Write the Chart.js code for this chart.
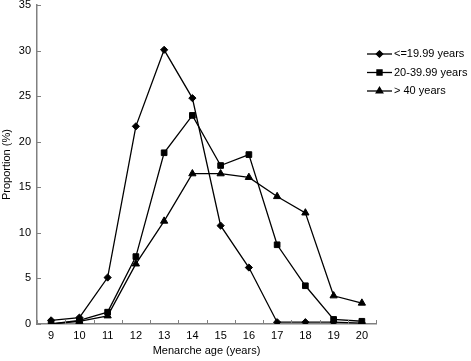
<!DOCTYPE html>
<html>
<head>
<meta charset="utf-8">
<script src="https://cdn.jsdelivr.net/npm/chart.js@4/dist/chart.umd.min.js"></script>
<style>
html,body{margin:0;padding:0;background:#fff;}
#wrap{width:471px;height:361px;position:relative;}
</style>
</head>
<body>
<div id="wrap"><canvas id="c" width="471" height="361"></canvas></div>
<script>
const ages = ['9','10','11','12','13','14','15','16','17','18','19','20'];
const seriesNames = ['<=19.99 years','20-39.99 years','> 40 years'];
const under20 = [0.4, 0.7, 5.1, 21.7, 30.1, 24.8, 10.8, 6.2, 0.2, 0.2, 0.2, 0.1];
const age20to40 = [0.0, 0.4, 1.3, 7.4, 18.8, 22.9, 17.4, 18.6, 8.7, 4.2, 0.5, 0.3];
const over40 = [0.0, 0.3, 0.9, 6.6, 11.3, 16.5, 16.5, 16.1, 14.0, 12.2, 3.1, 2.3];
const yTicks = [0, 5, 10, 15, 20, 25, 30, 35];

const FONT = 'Liberation Sans, Arial, Helvetica, sans-serif';
const styles = ['rectRot','rect','triangle'];
const radii = [3.6, 4, 4.2];

const innerTicks = {
  id: 'innerTicks',
  afterDraw(chart) {
    const ctx = chart.ctx;
    const xs = chart.scales.x, ys = chart.scales.y;
    const a = chart.chartArea;
    ctx.save();
    ctx.strokeStyle = '#808080';
    ctx.lineWidth = 1;
    yTicks.forEach(v => {
      const y = Math.round(ys.getPixelForValue(v)) + 0.5;
      ctx.beginPath(); ctx.moveTo(a.left, y); ctx.lineTo(a.left + 4, y); ctx.stroke();
    });
    const n = ages.length;
    for (let i = 0; i <= n; i++) {
      let x;
      if (i === 0) x = a.left;
      else if (i === n) x = a.right;
      else x = (xs.getPixelForTick(i - 1) + xs.getPixelForTick(i)) / 2;
      x = Math.round(x) + 0.5;
      ctx.beginPath(); ctx.moveTo(x, a.bottom); ctx.lineTo(x, a.bottom - 4); ctx.stroke();
    }
    ctx.restore();
  }
};

const customLegend = {
  id: 'customLegend',
  afterDraw(chart) {
    const ctx = chart.ctx;
    const a = chart.chartArea;
    const x0 = a.right - 9, x1 = x0 + 25;
    const ys0 = 54, gap = 18.5;
    ctx.save();
    chart.data.datasets.forEach((ds, i) => {
      const y = ys0 + i * gap;
      ctx.strokeStyle = '#000';
      ctx.lineWidth = 1.3;
      ctx.beginPath(); ctx.moveTo(x0, y); ctx.lineTo(x1, y); ctx.stroke();
      ctx.fillStyle = '#000';
      Chart.helpers.drawPoint(ctx, {pointStyle: ds.pointStyle, radius: ds.pointRadius - 0.4, borderWidth: 1}, (x0 + x1) / 2, y);
      ctx.fillStyle = '#000';
      ctx.font = '11px ' + FONT;
      ctx.textBaseline = 'middle';
      ctx.textAlign = 'left';
      ctx.fillText(ds.label, x1 + 2, y);
    });
    ctx.restore();
  }
};

const datasets = [under20, age20to40, over40].map((d, i) => ({
  label: seriesNames[i],
  data: d,
  borderColor: '#000',
  backgroundColor: '#000',
  borderWidth: 1.3,
  pointStyle: styles[i],
  pointRadius: radii[i],
  pointBorderWidth: 1,
  pointBackgroundColor: '#000',
  pointBorderColor: '#000',
  tension: 0,
  fill: false
}));

new Chart(document.getElementById('c'), {
  type: 'line',
  data: { labels: ages, datasets },
  options: {
    responsive: false,
    animation: false,
    layout: { padding: { top: 5, right: 95, left: 0, bottom: 0 } },
    plugins: { legend: { display: false }, tooltip: { enabled: false } },
    scales: {
      x: {
        type: 'category',
        offset: true,
        grid: { offset: true, drawOnChartArea: false, drawTicks: false },
        border: { color: '#808080', width: 1.5 },
        ticks: { color: '#000', padding: 5, font: { family: FONT, size: 11 }, maxRotation: 0, autoSkip: false },
        title: { display: true, text: 'Menarche age (years)', color: '#000', font: { family: FONT, size: 11 }, padding: { top: 4, bottom: 3 } },
        afterFit: s => { s.height = 37; s.paddingLeft = 0; s.paddingRight = 0; }
      },
      y: {
        min: 0, max: 35,
        afterBuildTicks: s => { s.ticks = yTicks.map(v => ({ value: v })); },
        grid: { drawOnChartArea: false, drawTicks: false },
        border: { color: '#808080', width: 1.5 },
        ticks: { color: '#000', padding: 6, font: { family: FONT, size: 11 } },
        title: { display: true, text: 'Proportion (%)', color: '#000', font: { family: FONT, size: 11 }, padding: { top: 0, bottom: 0 } },
        afterFit: s => { s.width = 37; s.paddingTop = 0; s.paddingBottom = 0; }
      }
    }
  },
  plugins: [innerTicks, customLegend]
});
</script>
</body>
</html>
